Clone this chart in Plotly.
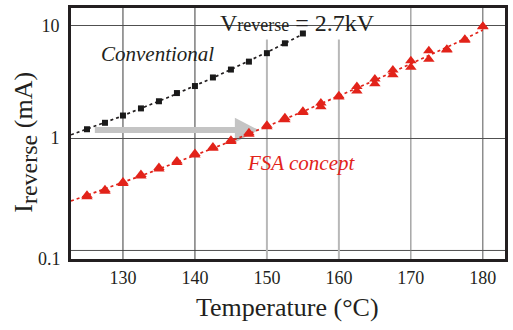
import numpy as np
import plotly.graph_objects as go

# ---------------- data ----------------
temp_conv = [125, 127.5, 130, 132.5, 135, 137.5, 140, 142.5, 145, 147.5, 150, 152.5, 155]
i_conv = [1.20, 1.37, 1.59, 1.84, 2.13, 2.52, 2.91, 3.47, 4.08, 4.80, 5.71, 6.99, 8.55]

temp_fsa = [125, 127.5, 130, 132.5, 135, 137.5, 140, 142.5, 145, 147.5, 150, 152.5,
            155, 157.5, 160, 162.5, 165, 167.5, 170, 172.5, 175, 177.5, 180]
i_fsa_a = [0.310, 0.348, 0.406, 0.475, 0.547, 0.627, 0.731, 0.836, 0.958, 1.115, 1.30, 1.52,
           1.74, 2.06, 2.38, 2.89, 3.37, 4.04, 4.89, 5.99, 6.19, 7.58, 9.94]
i_fsa_b = [0.300, 0.336, 0.394, 0.460, 0.530, 0.608, 0.708, 0.812, 0.932, 1.085, 1.26, 1.46,
           1.69, 1.90, 2.32, 2.63, 3.05, 3.66, 4.27, 5.05, 6.08, 7.45, 9.80]

x_ticks = [130, 140, 150, 160, 170, 180]
y_ticks = [1, 10]
y_tick_text = ["1", "10"]
y_low_label = "0.1"

# ---------------- layout constants ----------------
W, H = 513, 330
L, R, T, B = 71, 508, 5, 259
x_range = [122.78, 183.08]
y_range = [-1.0761, 1.1588]
FONT = "Liberation Serif, 'Times New Roman', Times, 'DejaVu Serif', serif"
INK = "#231f20"
RED = "#e2231a"


def px(x):
    return (x - L) / (R - L)


def py(y):
    return 1 - (y - T) / (B - T)


def fit_curve(t, v, t0):
    c = np.polyfit(np.asarray(t, float), np.log10(v), 2)
    tt = np.linspace(t0, max(t), 80)
    return tt, 10 ** np.polyval(c, tt)


fig = go.Figure()

# fitted dotted lines
tc, vc = fit_curve(temp_conv, i_conv, x_range[0])
fig.add_trace(go.Scatter(x=tc, y=vc, mode="lines", line=dict(color=INK, width=1.7, dash="dot"),
                         hoverinfo="skip", showlegend=False))
tf, vf = fit_curve(temp_fsa + temp_fsa, i_fsa_a + i_fsa_b, x_range[0])
fig.add_trace(go.Scatter(x=tf, y=vf, mode="lines", line=dict(color=RED, width=1.7, dash="dot"),
                         hoverinfo="skip", showlegend=False))

# markers
fig.add_trace(go.Scatter(x=temp_conv, y=i_conv, mode="markers",
                         marker=dict(symbol="square", size=6, color="#1a1a1a"), showlegend=False))
fig.add_trace(go.Scatter(x=temp_fsa, y=i_fsa_b, mode="markers",
                         marker=dict(symbol="triangle-up", size=10, color=RED), showlegend=False))
fig.add_trace(go.Scatter(x=temp_fsa, y=i_fsa_a, mode="markers",
                         marker=dict(symbol="triangle-up", size=10, color=RED), showlegend=False))

shapes = []
# horizontal grid line at 0.1 (paper position of the 0.1 level)
y01 = (np.log10(0.1) - y_range[0]) / (y_range[1] - y_range[0])
shapes.append(dict(type="line", xref="paper", yref="paper", x0=0, x1=1, y0=y01, y1=y01,
                   line=dict(color="#505050", width=1), layer="between"))
# vertical grid lines with individual tones
grid_style = {130: ("#3c3c3c", 1), 140: ("#3c3c3c", 1), 150: ("#b8b8b8", 2),
              160: ("#b8b8b8", 2), 170: ("#7a7a7a", 1), 180: ("#555555", 1)}
for xv in x_ticks:
    col, w = grid_style[xv]
    shapes.append(dict(type="line", xref="x", yref="paper", x0=xv, x1=xv, y0=0, y1=1,
                       line=dict(color=col, width=w), layer="between"))
# white box behind the voltage label
shapes.append(dict(type="rect", xref="paper", yref="paper", x0=px(213), x1=px(382),
                   y0=py(37), y1=1, fillcolor="white", line=dict(width=0), layer="between"))
# grey arrow
pts = [(95, 125.5), (236, 125.5), (236, 116), (260, 128.5), (236, 141), (236, 131.5), (95, 131.5)]
path = "M " + " L ".join(f"{px(a):.5f},{py(b):.5f}" for a, b in pts) + " Z"
shapes.append(dict(type="path", xref="paper", yref="paper", path=path,
                   fillcolor="#c4c4c4", line=dict(width=0), layer="between"))

annotations = [
    dict(text="V<span style='font-size:18px'>reverse</span> = 2.7kV", xref="paper", yref="paper",
         x=px(219), y=py(20), xanchor="left", yanchor="middle", showarrow=False,
         font=dict(family=FONT, size=24, color=INK)),
    dict(text="<i>Conventional</i>", xref="paper", yref="paper", x=px(99), y=py(51.5),
         xanchor="left", yanchor="middle", showarrow=False,
         font=dict(family=FONT, size=21, color=INK)),
    dict(text="<i>FSA concept</i>", xref="paper", yref="paper", x=px(246), y=py(161.5),
         xanchor="left", yanchor="middle", showarrow=False,
         font=dict(family=FONT, size=21, color=RED)),
    dict(text=y_low_label, xref="paper", yref="paper", x=px(63), y=py(259),
         xanchor="right", yanchor="middle", showarrow=False,
         font=dict(family=FONT, size=18, color=INK)),
    dict(text="I<sub><span style='font-size:24px'>reverse</span></sub> (mA)", xref="paper",
         yref="paper", x=px(25), y=py(141), xanchor="center", yanchor="middle",
         textangle=-90, showarrow=False, font=dict(family=FONT, size=26, color=INK)),
    dict(text="Temperature (°C)", xref="paper", yref="paper", x=px(288.5), y=py(308),
         xanchor="center", yanchor="middle", showarrow=False,
         font=dict(family=FONT, size=26, color=INK)),
]

fig.update_layout(
    width=W, height=H,
    margin=dict(l=L, r=W - R, t=T, b=H - B, pad=0),
    paper_bgcolor="white", plot_bgcolor="white",
    shapes=shapes, annotations=annotations,
    font=dict(family=FONT, color=INK),
    xaxis=dict(range=x_range, tickvals=x_ticks, showgrid=False, zeroline=False,
               showline=True, mirror=True, linewidth=3, linecolor=INK,
               ticks="", ticklabelstandoff=0,
               tickfont=dict(family=FONT, size=18, color=INK)),
    yaxis=dict(type="log", range=y_range, tickvals=y_ticks, ticktext=y_tick_text,
               showgrid=True, gridcolor="#505050", gridwidth=1, zeroline=False,
               showline=True, mirror=True, linewidth=3, linecolor=INK,
               ticks="", ticklabelstandoff=5,
               tickfont=dict(family=FONT, size=18, color=INK)),
)

fig.write_html("out.html")
